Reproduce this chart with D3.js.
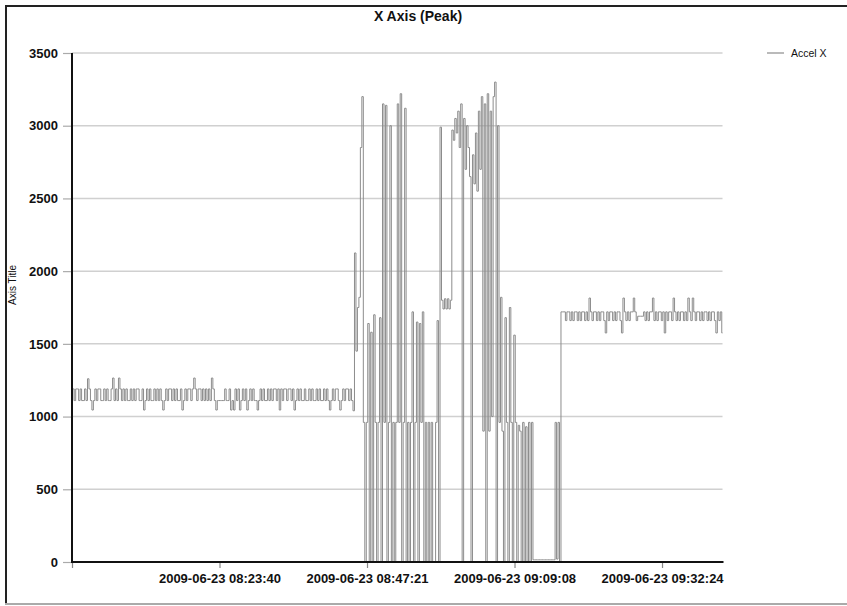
<!DOCTYPE html>
<html>
<head>
<meta charset="utf-8">
<script src="https://cdn.jsdelivr.net/npm/d3@7"></script>
<style>
  html, body { margin: 0; padding: 0; background: #fff; }
  svg { display: block; font-family: "Liberation Sans", Arial, Helvetica, sans-serif; }
</style>
</head>
<body>
<svg id="chart" width="847" height="606"></svg>
<script>
// ---------------- DATA ----------------
const chartTitle = "X Axis (Peak)";
const yAxisTitle = "Axis Title";
const seriesName = "Accel X";

const yTicks = [0, 500, 1000, 1500, 2000, 2500, 3000, 3500];
// category index at which each x tick label sits
const xTickIndex = [0, 100, 200, 300, 400];
const xTickLabels = ["", "2009-06-23 08:23:40", "2009-06-23 08:47:21", "2009-06-23 09:09:08", "2009-06-23 09:32:24"];

// steady phase (~1100-1200)
const segSteady = [
  1110,1190,1110,1190,1190,1110,1190,1110,1110,1190,1110,1260,1190,1110,1045,1110,
  1190,1110,1190,1190,1110,1110,1190,1110,1190,1110,1110,1190,1265,1110,1190,1110,
  1265,1190,1110,1190,1110,1190,1110,1110,1190,1110,1190,1110,1190,1190,1110,1110,
  1190,1045,1110,1190,1110,1190,1110,1110,1190,1110,1190,1110,1190,1110,1045,1110,
  1190,1110,1190,1190,1110,1190,1110,1190,1110,1110,1190,1045,1110,1190,1110,1190,
  1190,1110,1190,1265,1190,1110,1190,1190,1110,1190,1110,1190,1110,1190,1110,1265,
  1190,1110,1045,1110,1110,1110,1110,1110,1190,1110,1110,1190,1045,1110,1045,1190,
  1110,1190,1045,1110,1190,1110,1190,1045,1110,1190,1110,1190,1110,1110,1045,1110,
  1190,1110,1190,1110,1110,1190,1110,1190,1110,1190,1190,1110,1190,1045,1190,1110,
  1190,1190,1110,1190,1190,1110,1190,1045,1110,1190,1110,1190,1110,1110,1190,1110,
  1110,1190,1110,1190,1110,1110,1190,1110,1190,1110,1110,1190,1110,1190,1110,1045,
  1110,1190,1110,1190,1190,1110,1045,1110,1190,1110,1190,1190,1110,1190,1110,1040
];
// first turbulent phase
const segBurst = [
  2125,1450,1750,1820,2850,3200,960,0,960,1640,0,1580,0,1700,960,0,
  960,1680,0,3150,960,3140,0,960,3000,0,960,0,960,3150,960,3220,
  0,960,3120,0,960,0,960,1720,0,960,1650,0,1640,960,1720,0,
  960,0,960,0,960,0,0,960,1660,0
];
// high phase (~2600-3300)
const segHigh = [
  2990,1800,1740,1810,1740,1810,1740,1800,2970,2900,3050,2950,3100,2850,3150,0,
  3050,2700,3000,2850,2650,0,2800,2600,2950,2550,3100,2700,3200,900,3150,0,
  3220,900,3100,1000,3200,3300,0,3000,960
];
// decline phase
const segDecline = [
  1820,900,0,1680,960,0,1750,960,0,1560,960,0,940,900,0,960,
  0,930,0,960,0,960,15
];
// idle phase
const segIdle = [15,15,15,15,15,15,15,15,15,15,15,15,15,15];
// ramp back up
const segRamp = [960,20,960,0,1720,1720];
// final plateau (~1650-1720)
const segPlateau = [
  1720,1660,1720,1720,1660,1720,1660,1720,1720,1660,1720,1660,1720,1720,1660,1720,
  1660,1815,1720,1660,1720,1720,1660,1720,1660,1720,1720,1660,1575,1720,1660,1720,
  1720,1660,1720,1660,1720,1720,1660,1575,1815,1720,1660,1720,1660,1720,1720,1815,
  1720,1660,1690,1690,1690,1690,1720,1660,1720,1660,1720,1720,1815,1660,1720,1660,
  1720,1720,1660,1720,1575,1720,1660,1720,1720,1660,1815,1720,1660,1720,1660,1720,
  1720,1660,1720,1660,1815,1720,1660,1815,1720,1660,1720,1720,1660,1720,1660,1720,
  1720,1660,1720,1660,1720,1720,1660,1575,1720,1660,1720,1575
];

const accelX = [].concat(segSteady, segBurst, segHigh, segDecline, segIdle, segRamp, segPlateau);

// ---------------- DRAW ----------------
const svg = d3.select("#chart");
const W = 847, H = 606;
const plot = { left: 72, right: 722.5, top: 53, bottom: 562 };

// frame of the picture
svg.append("line").attr("x1", 6).attr("x2", 6).attr("y1", 5).attr("y2", 604)
  .attr("stroke", "#222").attr("stroke-width", 2);
svg.append("line").attr("x1", 5).attr("x2", W).attr("y1", 6).attr("y2", 6)
  .attr("stroke", "#222").attr("stroke-width", 2);
svg.append("line").attr("x1", 5).attr("x2", W).attr("y1", 604).attr("y2", 604)
  .attr("stroke", "#aaa").attr("stroke-width", 2);

const x = d3.scaleLinear().domain([0, accelX.length - 1]).range([plot.left, plot.right]);
const y = d3.scaleLinear().domain([0, 3500]).range([plot.bottom, plot.top]);

// gridlines
svg.append("g").selectAll("line").data(yTicks.filter(d => d > 0)).join("line")
  .attr("x1", plot.left).attr("x2", plot.right)
  .attr("y1", d => y(d)).attr("y2", d => y(d))
  .attr("stroke", "#d0d0d0").attr("stroke-width", 1.5);

// y axis
const yAxis = svg.append("g").attr("transform", `translate(${plot.left},0)`)
  .call(d3.axisLeft(y).tickValues(yTicks).tickFormat(d3.format("d")).tickSize(9).tickPadding(5));
yAxis.select(".domain").remove();
yAxis.selectAll(".tick line").attr("stroke", "#aaa").attr("stroke-width", 1.2);
yAxis.selectAll(".tick text").attr("font-size", 13).attr("font-weight", "bold")
  .attr("fill", "#111").attr("font-family", "Liberation Sans, Arial, sans-serif");

// x axis
const xAxis = svg.append("g").attr("transform", `translate(0,${plot.bottom})`)
  .call(d3.axisBottom(x).tickValues(xTickIndex).tickFormat((d, i) => xTickLabels[i]).tickSize(6).tickPadding(6));
xAxis.select(".domain").remove();
xAxis.selectAll(".tick line").attr("stroke", "#888").attr("stroke-width", 1.2);
xAxis.selectAll(".tick text").attr("font-size", 13).attr("font-weight", "bold")
  .attr("fill", "#111").attr("font-family", "Liberation Sans, Arial, sans-serif");

// series line
const line = d3.line().x((d, i) => x(i)).y(d => y(d)).curve(d3.curveStep);
svg.append("path").datum(accelX)
  .attr("d", line).attr("fill", "none")
  .attr("stroke", "#8c8c8c").attr("stroke-width", 1);

// axis lines (drawn on top)
svg.append("line").attr("x1", plot.left).attr("x2", plot.left)
  .attr("y1", plot.top).attr("y2", plot.bottom + 1)
  .attr("stroke", "#111").attr("stroke-width", 2);
svg.append("line").attr("x1", plot.left - 1).attr("x2", plot.right + 1)
  .attr("y1", plot.bottom).attr("y2", plot.bottom)
  .attr("stroke", "#111").attr("stroke-width", 2);

// title
svg.append("text").attr("x", 418).attr("y", 21).attr("text-anchor", "middle")
  .attr("font-size", 14).attr("font-weight", "bold").attr("fill", "#111")
  .text(chartTitle);

// y axis title
svg.append("text").attr("transform", "translate(16,285) rotate(-90)")
  .attr("text-anchor", "middle").attr("font-size", 10).attr("fill", "#111")
  .text(yAxisTitle);

// legend
svg.append("line").attr("x1", 767).attr("x2", 784).attr("y1", 53).attr("y2", 53)
  .attr("stroke", "#8c8c8c").attr("stroke-width", 1.2);
svg.append("text").attr("x", 791).attr("y", 57).attr("font-size", 10.5).attr("fill", "#111")
  .text(seriesName);
</script>
</body>
</html>
